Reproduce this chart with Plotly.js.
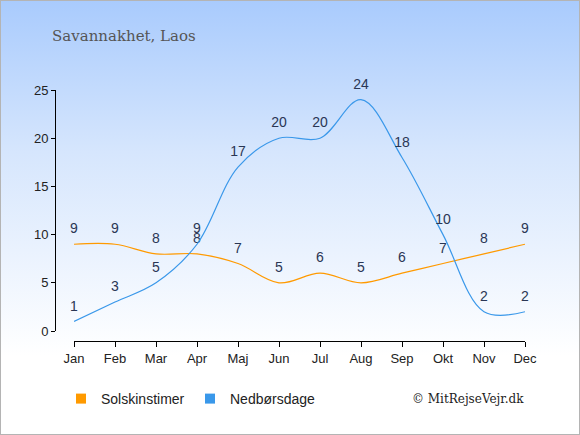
<!DOCTYPE html>
<html>
<head>
<meta charset="utf-8">
<script src="https://cdn.plot.ly/plotly-3.0.1.min.js"></script>
<style>
  html, body { margin: 0; padding: 0; background: #fff; }
  #wrap {
    width: 578px; height: 433px; border: 1px solid #b4b4b4;
    background: linear-gradient(to bottom, #a9cbfd 0%, #d6e6fd 35%, #ffffff 82%, #ffffff 100%);
    position: relative; overflow: hidden;
  }
  #chart { width: 578px; height: 433px; }
</style>
</head>
<body>
<div id="wrap"><div id="chart"></div></div>
<script>
const months = ["Jan","Feb","Mar","Apr","Maj","Jun","Jul","Aug","Sep","Okt","Nov","Dec"];
const solskinstimer = [9, 9, 8, 8, 7, 5, 6, 5, 6, 7, 8, 9];
const nedboersdage  = [1, 3, 5, 9, 17, 20, 20, 24, 18, 10, 2, 2];
const yTicks = [0, 5, 10, 15, 20, 25];

const W = 578, H = 433;
const px = (x) => x / W;
const py = (y) => (H - y) / H;

const orange = "#ff9a00";
const blue = "#3a98ea";
const labelFont = {family: "Liberation Sans, Arial, sans-serif", size: 14, color: "#2a3654"};

const traces = [
  {
    x: months, y: solskinstimer, mode: "lines+markers+text", type: "scatter",
    text: solskinstimer.map(String), textposition: "top center", textfont: labelFont,
    line: {color: orange, width: 1.2, shape: "spline", smoothing: 1},
    marker: {size: 10, opacity: 0, color: orange},
    cliponaxis: false, showlegend: false, hoverinfo: "skip"
  },
  {
    x: months, y: nedboersdage, mode: "lines+markers+text", type: "scatter",
    text: nedboersdage.map(String), textposition: "top center", textfont: labelFont,
    line: {color: blue, width: 1.2, shape: "spline", smoothing: 1},
    marker: {size: 10, opacity: 0, color: blue},
    cliponaxis: false, showlegend: false, hoverinfo: "skip"
  },
  {
    x: [null], y: [null], mode: "markers", type: "scatter", name: "Solskinstimer",
    marker: {symbol: "square", size: 10, color: orange}, showlegend: true
  },
  {
    x: [null], y: [null], mode: "markers", type: "scatter", name: "Nedbørsdage",
    marker: {symbol: "square", size: 10, color: blue}, showlegend: true
  }
];

const layout = {
  width: W, height: H,
  margin: {l: 0, r: 0, t: 0, b: 0},
  paper_bgcolor: "rgba(0,0,0,0)",
  plot_bgcolor: "rgba(0,0,0,0)",
  showlegend: true,
  xaxis: {
    type: "category",
    categoryarray: months,
    range: [0, 11],
    domain: [px(73), px(524)],
    anchor: "free",
    position: py(340),
    showline: true, linecolor: "#000", linewidth: 1,
    ticks: "outside", ticklen: 5, tickcolor: "#000",
    showgrid: false, zeroline: false,
    tickfont: {family: "Liberation Sans, Arial, sans-serif", size: 13, color: "#222"},
    fixedrange: true
  },
  yaxis: {
    range: [0, 25],
    domain: [py(330), py(89)],
    anchor: "free",
    position: px(54),
    tickvals: yTicks,
    ticktext: yTicks.map(String),
    showline: true, linecolor: "#000", linewidth: 1,
    ticks: "outside", ticklen: 4, tickcolor: "#000",
    showgrid: false, zeroline: false,
    tickfont: {family: "Liberation Sans, Arial, sans-serif", size: 13, color: "#222"},
    fixedrange: true
  },
  legend: {
    orientation: "h",
    x: px(60), y: py(398), xanchor: "left", yanchor: "middle",
    font: {family: "Liberation Sans, Arial, sans-serif", size: 14, color: "#222"},
    bgcolor: "rgba(0,0,0,0)",
    itemwidth: 30,
    entrywidth: 84,
    entrywidthmode: "pixels",
    tracegroupgap: 0
  },
  annotations: [
    {
      text: "Savannakhet, Laos", xref: "paper", yref: "paper",
      x: px(49), y: py(35), xanchor: "left", yanchor: "middle", showarrow: false,
      font: {family: "DejaVu Serif, Liberation Serif, serif", size: 15, color: "#555"}
    },
    {
      text: "© MitRejseVejr.dk", xref: "paper", yref: "paper",
      x: px(525), y: py(398), xanchor: "right", yanchor: "middle", showarrow: false,
      font: {family: "DejaVu Serif, Liberation Serif, serif", size: 12, color: "#222"}
    }
  ]
};

Plotly.newPlot("chart", traces, layout, {displayModeBar: false, staticPlot: true});
</script>
</body>
</html>
